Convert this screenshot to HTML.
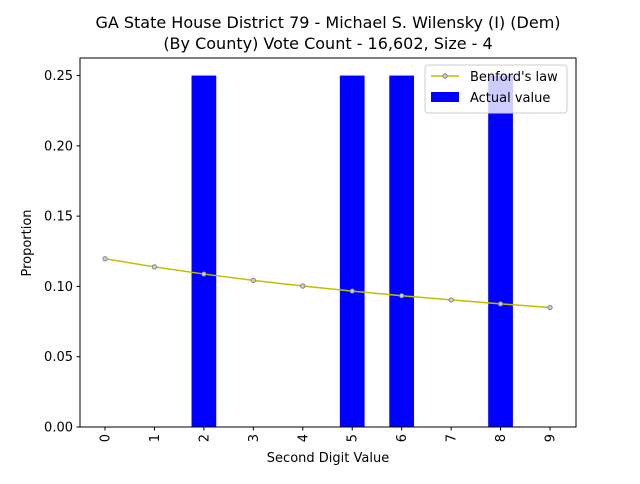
<!DOCTYPE html>
<html><head><meta charset="utf-8"><style>
body{margin:0;background:#fff;font-family:"DejaVu Sans","Liberation Sans",sans-serif}
</style></head><body>
<svg width="640" height="480" xmlns="http://www.w3.org/2000/svg" font-family="DejaVu Sans, Liberation Sans, sans-serif" id="chart">
<text x="328" y="28" text-anchor="middle" font-size="16">GA State House District 79 - Michael S. Wilensky (I) (Dem)</text>
<text x="328" y="49" text-anchor="middle" font-size="16">(By County) Vote Count - 16,602, Size - 4</text>
<g id="bars"></g>
<g id="line"></g>
<g id="axes"></g>
<text x="328" y="462" text-anchor="middle" font-size="13">Second Digit Value</text>
<text transform="translate(31,243) rotate(-90)" text-anchor="middle" font-size="13">Proportion</text>
<g>
<rect x="425" y="65" width="142" height="48" fill="#fff" fill-opacity="0.8" stroke="#ccc" rx="3"/>
<line x1="431" y1="76" x2="459" y2="76" stroke="#bfbf00" stroke-width="1.5"/>
<circle cx="445" cy="76" r="2.2" fill="#ccc" stroke="#777" stroke-width="0.8"/>
<text x="470" y="81" font-size="13">Benford's law</text>
<rect x="431" y="92" width="28" height="10" fill="#0000ff"/>
<text x="470" y="102" font-size="13">Actual value</text>
</g>
</svg>
<script>
const categories=[0,1,2,3,4,5,6,7,8,9];
const actualValues=[0,0,0.25,0,0,0.25,0.25,0,0.25,0];
const benfordValues=[0.1197,0.1139,0.1088,0.1043,0.1003,0.0967,0.0934,0.0904,0.0876,0.0850];
const yTicks=[0,0.05,0.10,0.15,0.20,0.25];
const yTickLabels=["0.00","0.05","0.10","0.15","0.20","0.25"];
const NS="http://www.w3.org/2000/svg";
const L=80,R=576,T=58,B=427,yMax=0.2625;
const xs=i=>105+(550-105)*i/9;
const ys=v=>B-(B-T)*v/yMax;
function mk(t,a,p){const e=document.createElementNS(NS,t);for(const k in a)e.setAttribute(k,a[k]);p.appendChild(e);return e;}
const bars=document.getElementById('bars'),line=document.getElementById('line'),axes=document.getElementById('axes');
const bw=(xs(1)-xs(0))*0.5;
categories.forEach((c,i)=>{
 if(actualValues[i]<=0)return;
 const r=mk('rect',{x:xs(c)-bw/2,y:ys(actualValues[i]),width:bw,height:B-ys(actualValues[i]),fill:'#0000ff'},bars);
 
 
});
const pl=mk('polyline',{points:categories.map((c,i)=>xs(c)+','+ys(benfordValues[i])).join(' '),fill:'none',stroke:'#bfbf00','stroke-width':1.5},line);


categories.forEach((c,i)=>{
 const p=mk('circle',{cx:xs(c),cy:ys(benfordValues[i]),r:2.2,fill:'#ccc',stroke:'#777','stroke-width':0.8},line);
 
 
});
const fr=mk('rect',{x:L,y:T,width:R-L,height:B-T,fill:'none',stroke:'#000','stroke-width':1},axes);


yTicks.forEach((v,i)=>{
 mk('line',{x1:L-3.5,x2:L,y1:ys(v),y2:ys(v),stroke:'#000'},axes);
 const t=mk('text',{x:L-7,y:ys(v)+4.5,'text-anchor':'end','font-size':13},axes);
 t.textContent=yTickLabels[i];
 
 
});
categories.forEach(c=>{
 mk('line',{x1:xs(c),x2:xs(c),y1:B,y2:B+3.5,stroke:'#000'},axes);
 const t=mk('text',{transform:`translate(${xs(c)+4.5},${B+7}) rotate(-90)`,'text-anchor':'end','font-size':13},axes);
 t.textContent=String(c);
 
 
});
</script>
</body></html>
